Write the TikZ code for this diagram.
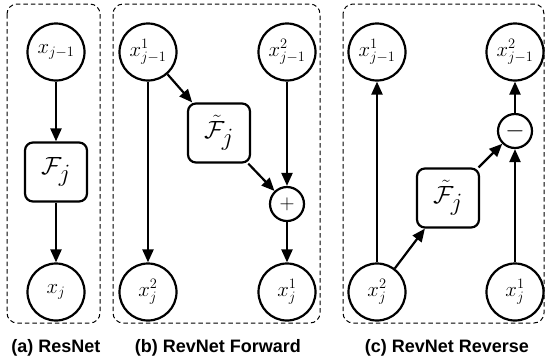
\documentclass[tikz,border=0pt]{standalone}
\usepackage{fontspec}
\usepackage{amsmath,amssymb}
\newfontfamily\capfont{Liberation Sans}
\tikzset{arr/.style = {-{Triangle[length=13pt,width=11pt]}, line width=2.2pt}}
\tikzset{var/.style = {draw, circle, line width=2.2pt, minimum size=57pt, inner sep=0, font=\fontsize{22}{26}\selectfont}}
\tikzset{op/.style = {draw, circle, line width=2.2pt, minimum size=34pt, inner sep=0, font=\fontsize{22}{26}\selectfont}}
\tikzset{fbox/.style = {draw, rounded corners=8pt, line width=2.2pt, minimum width=62pt, minimum height=59pt, inner sep=0, font=\fontsize{34}{40}\selectfont}}
\tikzset{panel/.style = {dash pattern=on 4.5pt off 3pt, line width=1pt, rounded corners=10pt}}
\tikzset{paneltitle/.style = {anchor=base, font=\capfont\bfseries\fontsize{18}{22}\selectfont}}
\usetikzlibrary{arrows.meta}

\begin{document}
\begin{tikzpicture}[x=1pt, y=-1pt]
    \useasboundingbox (0,0) rectangle (546,360);
    % dashed panels
    \draw [panel] (7,4) rectangle (100,323);
    \draw [panel] (113,4) rectangle (320,323);
    \draw [panel] (343,4) rectangle (544,323);
    % (a) resnet
    \node [var] (ain) at (56,52) {$x_{j-1}$};
    \node [fbox] (af) at (56,172) {$\mathcal{F}_j$};
    \node [var] (aout) at (56,292) {$x_j$};
    \draw [arr] (ain) -- (af);
    \draw [arr] (af) -- (aout);
    % (b) revnet forward
    \node [var] (bin1) at (148,52) {$x^1_{j-1}$};
    \node [var] (bin2) at (287,52) {$x^2_{j-1}$};
    \node [fbox] (bf) at (219,133) {$\tilde{\mathcal{F}}_j$};
    \node [op] (bplus) at (287,204) {$+$};
    \node [var] (bout2) at (148,292) {$x^2_j$};
    \node [var] (bout1) at (287,292) {$x^1_j$};
    \draw [arr] (bin1) -- (bout2);
    \draw [arr] (bin1) -- (bf);
    \draw [arr] (bf) -- (bplus);
    \draw [arr] (bin2) -- (bplus);
    \draw [arr] (bplus) -- (bout1);
    % (c) revnet reverse
    \node [var] (cin1) at (377,52) {$x^1_{j-1}$};
    \node [var] (cin2) at (515,52) {$x^2_{j-1}$};
    \node [op, font=\fontsize{30}{32}\selectfont] (cminus) at (515,131) {$-$};
    \node [fbox] (cf) at (448,198) {$\tilde{\mathcal{F}}_j$};
    \node [var] (cout2) at (377,292) {$x^2_j$};
    \node [var] (cout1) at (515,292) {$x^1_j$};
    \draw [arr] (cout2) -- (cin1);
    \draw [arr] (cout2) -- (cf);
    \draw [arr] (cf) -- (cminus);
    \draw [arr] (cout1) -- (cminus);
    \draw [arr] (cminus) -- (cin2);
    % titles
    \node [paneltitle] (ta) at (56,352) {(a) ResNet};
    \node [paneltitle] (tb) at (218,352) {(b) RevNet Forward};
    \node [paneltitle] (tc) at (447,352) {(c) RevNet Reverse};
\end{tikzpicture}
\end{document}
